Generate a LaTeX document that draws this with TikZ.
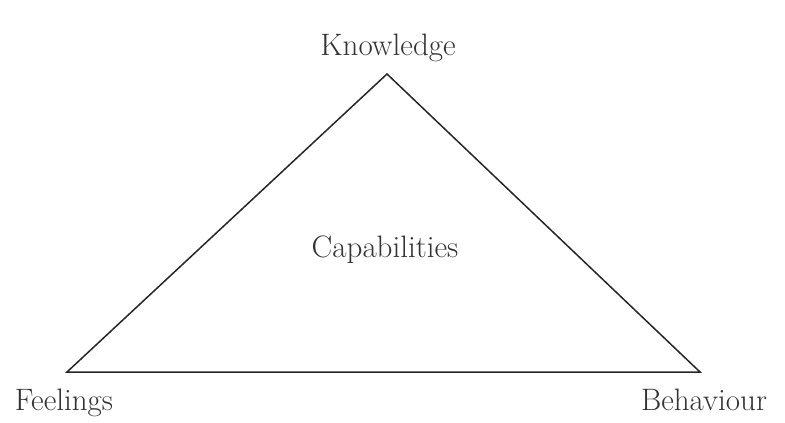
\documentclass[tikz,border=0pt]{standalone}
\begin{document}
\begin{tikzpicture}[x=1pt,y=-1pt,
  lbl/.style={anchor=base,inner sep=0pt,text=black!80,font=\fontsize{31}{37}\selectfont},
  edge/.style={draw=black!85,line width=1.5pt,line join=miter}]
\useasboundingbox (0,0) rectangle (785,423);
\coordinate (K) at (387,74);
\coordinate (F) at (67,372);
\coordinate (B) at (700,372);
\draw[edge] (K) -- (B) -- (F) -- cycle;
\node[lbl] (kn) at (388,55) {Knowledge};
\node[lbl] (fe) at (64,410) {Feelings};
\node[lbl] (be) at (704,410) {Behaviour};
\node[lbl] (ca) at (385,257) {Capabilities};
\end{tikzpicture}
\end{document}
